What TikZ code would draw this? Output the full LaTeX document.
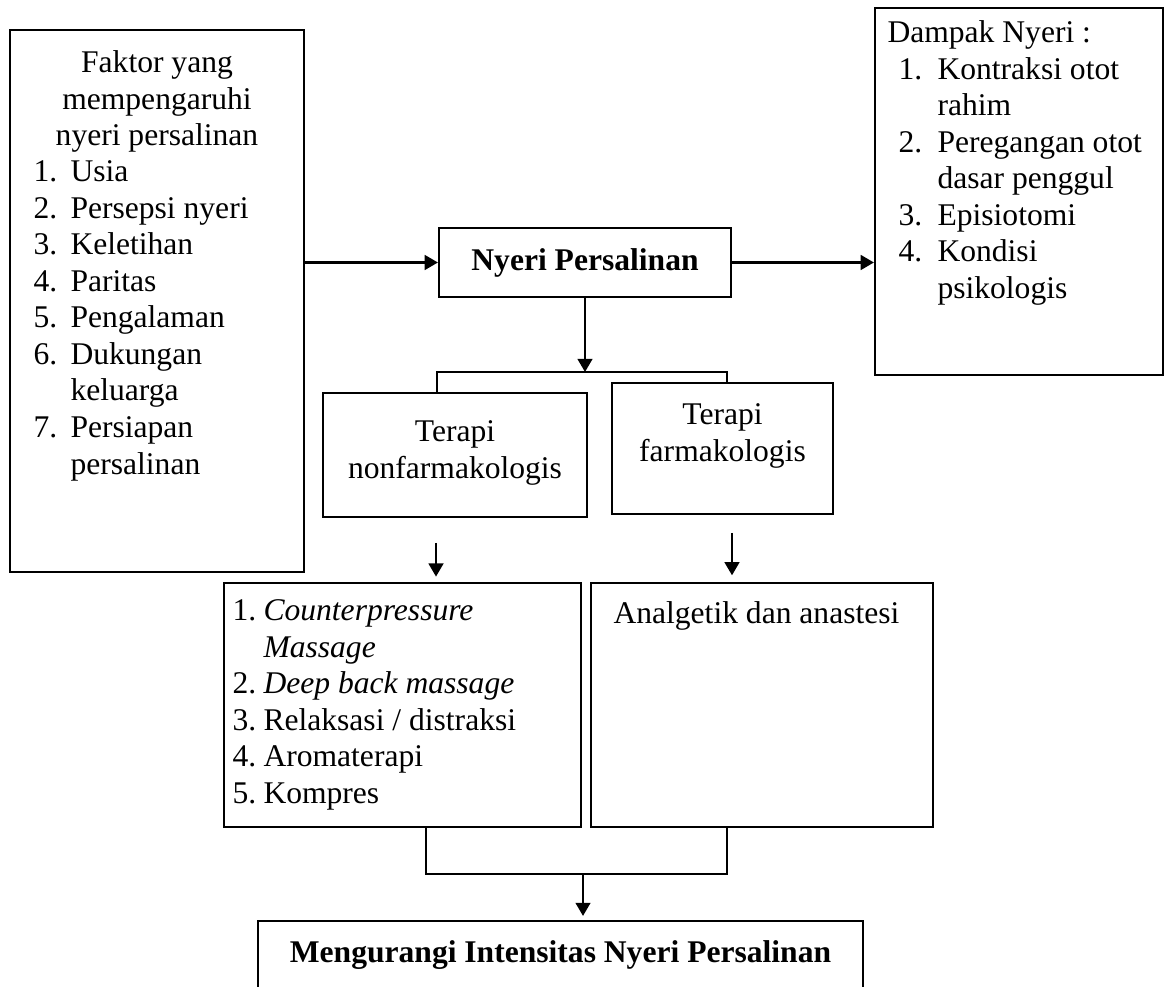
\documentclass[tikz,border=0pt]{standalone}
\usepackage{fontspec}
\setmainfont{Liberation Serif}
\usetikzlibrary{arrows.meta}
\newlength{\px}
\setlength{\px}{0.38pt}
\newcommand{\butir}[3][37]{\makebox[#1\px][l]{#2}#3}
\tikzset{
  kotak/.style={draw, line width=0.85pt, inner sep=0pt},
  isi/.style={inner sep=0pt, font=\fontsize{12}{13.9}\selectfont},
  garis/.style={line width=0.85pt},
  panah/.style={line width=0.85pt, -{Triangle[width=5.6pt,length=5pt]}}
}
\begin{document}
\begin{tikzpicture}[x=\px, y=-\px]
\useasboundingbox (0,0) rectangle (1173,987);
\node[kotak, minimum width=294\px, minimum height=542\px] (faktor) at (157,301) {};
\node[isi, anchor=north, align=center] (faktorjudul) at (157,50) {Faktor yang\\mempengaruhi\\nyeri persalinan};
\node[isi, anchor=north west, align=left] (faktorisi) at (33,160) {\butir{1.}{Usia}\\\butir{2.}{Persepsi nyeri}\\\butir{3.}{Keletihan}\\\butir{4.}{Paritas}\\\butir{5.}{Pengalaman}\\\butir{6.}{Dukungan}\\\butir{}{keluarga}\\\butir{7.}{Persiapan}\\\butir{}{persalinan}};
\node[kotak, minimum width=292\px, minimum height=69\px, font=\fontsize{12}{13.9}\selectfont\bfseries] (nyeri) at (585,262.5) {Nyeri Persalinan};
\node[kotak, minimum width=288\px, minimum height=367\px] (dampak) at (1019,191.5) {};
\node[isi, anchor=north west] (dampakjudul) at (887,20) {Dampak Nyeri :};
\node[isi, anchor=north west, align=left] (dampakisi) at (898,56.6) {\butir[39]{1.}{Kontraksi otot}\\\butir[39]{}{rahim}\\\butir[39]{2.}{Peregangan otot}\\\butir[39]{}{dasar penggul}\\\butir[39]{3.}{Episiotomi}\\\butir[39]{4.}{Kondisi}\\\butir[39]{}{psikologis}};
\draw[panah] (faktor.east |- nyeri.west) -- (nyeri.west);
\draw[panah] (nyeri.east) -- (nyeri.east -| dampak.west);
\node[kotak, minimum width=264\px, minimum height=124\px] (nonfarm) at (455,455) {};
\node[isi, anchor=north, align=center] (nonfarmisi) at (455,420) {Terapi\\nonfarmakologis};
\node[kotak, minimum width=221\px, minimum height=131\px] (farm) at (722.5,448.5) {};
\node[isi, anchor=north, align=center] (farmisi) at (722.5,403) {Terapi\\farmakologis};
\coordinate (cabang) at (585,372);
\coordinate (cabangkiri) at (437,372);
\coordinate (cabangkanan) at (727,372);
\draw[panah] (nyeri.south) -- (cabang);
\draw[garis] (nonfarm.north -| cabangkiri) -- (cabangkiri) -- (cabangkanan) -- (farm.north -| cabangkanan);
\node[kotak, minimum width=357\px, minimum height=244\px] (counter) at (402.5,705) {};
\node[isi, anchor=north west, align=left] (counterisi) at (232,599) {\butir[31]{1.}{\textit{Counterpressure}}\\\butir[31]{}{\textit{Massage}}\\\butir[31]{2.}{\textit{Deep back massage}}\\\butir[31]{3.}{Relaksasi / distraksi}\\\butir[31]{4.}{Aromaterapi}\\\butir[31]{5.}{Kompres}};
\node[kotak, minimum width=342\px, minimum height=244\px] (analg) at (762,705) {};
\node[isi, anchor=north west] (analgisi) at (613,601) {Analgetik dan anastesi};
\coordinate (turunkiri) at (436,543);
\coordinate (turunkanan) at (732,533);
\draw[panah, shorten >=2pt] (turunkiri) -- (turunkiri |- counter.north);
\draw[panah, shorten >=2.5pt] (turunkanan) -- (turunkanan |- analg.north);
\node[kotak, minimum width=605\px, minimum height=150\px] (hasil) at (560.5,996) {};
\node[isi, anchor=north, font=\fontsize{12}{13.9}\selectfont\bfseries] (hasilisi) at (560.5,940) {Mengurangi Intensitas Nyeri Persalinan};
\coordinate (gabung) at (583,874);
\coordinate (gabungkiri) at (426,874);
\coordinate (gabungkanan) at (727,874);
\draw[garis] ([yshift=2\px]counter.south -| gabungkiri) -- (gabungkiri) -- (gabungkanan) -- ([yshift=2\px]analg.south -| gabungkanan);
\draw[panah, shorten >=1.5pt] (gabung) -- (gabung |- hasil.north);
\end{tikzpicture}
\end{document}
